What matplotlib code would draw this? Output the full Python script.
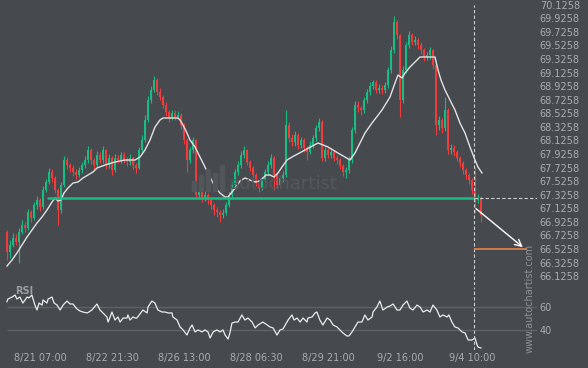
import matplotlib.pyplot as plt
import numpy as np

# colours
BG = "#46494e"
TXT = "#a9acb0"
GREEN = "#17bd83"
RED = "#f23c3c"

# candle closes / highs / lows (30 min bars, one entry per ~3 source bars)
first_open = 66.78
close = [66.48, 66.59, 66.69, 66.63, 66.78, 66.88, 66.84, 67.07, 66.98, 67.17,
         67.25, 67.14, 67.40, 67.51, 67.66, 67.57, 67.40, 67.10, 67.47, 67.84,
         67.76, 67.72, 67.66, 67.62, 67.69, 67.76, 67.84, 67.98, 67.84, 67.76,
         67.91, 67.84, 67.98, 67.76, 67.87, 67.69, 67.87, 67.84, 67.91, 67.84,
         67.81, 67.87, 67.76, 67.72, 67.98, 68.13, 68.43, 68.72, 68.87, 69.02,
         68.84, 68.77, 68.65, 68.54, 68.46, 68.53, 68.47, 68.50, 68.35, 68.13,
         67.84, 67.98, 68.13, 67.32, 67.37, 67.28, 67.32, 67.25, 67.17, 67.10,
         67.07, 67.03, 67.06, 67.17, 67.32, 67.47, 67.66, 67.76, 67.91, 67.98,
         67.81, 67.72, 67.62, 67.50, 67.42, 67.54, 67.66, 67.76, 67.87, 67.62,
         67.47, 67.57, 67.62, 68.35, 68.16, 68.10, 68.21, 68.06, 68.13, 68.01,
         67.96, 68.06, 68.16, 68.31, 68.40, 67.87, 67.98, 67.91, 67.96, 67.87,
         67.84, 67.75, 67.66, 67.69, 67.84, 68.28, 68.65, 68.60, 68.57, 68.72,
         68.84, 68.93, 68.99, 68.87, 68.90, 68.87, 68.94, 69.16, 69.46, 69.87,
         69.68, 68.72, 69.16, 69.53, 69.68, 69.58, 69.61, 69.53, 69.46, 69.36,
         69.38, 69.46, 69.24, 68.35, 68.43, 68.31, 68.57, 67.98, 68.01, 67.96,
         67.87, 67.79, 67.69, 67.62, 67.54, 67.40, 67.25, 67.28, 67.03]
high = [66.80, 66.66, 66.76, 66.74, 66.84, 66.95, 66.93, 67.12, 67.10, 67.22,
        67.31, 67.28, 67.45, 67.56, 67.72, 67.70, 67.60, 67.43, 67.52, 67.90,
        67.88, 67.80, 67.76, 67.70, 67.74, 67.81, 67.89, 68.05, 68.01, 67.87,
        67.97, 67.95, 68.04, 68.00, 67.92, 67.90, 67.92, 67.91, 67.96, 67.95,
        67.88, 67.92, 67.90, 67.80, 68.03, 68.20, 68.50, 68.78, 68.93, 69.08,
        69.05, 68.90, 68.80, 68.69, 68.58, 68.58, 68.57, 68.56, 68.53, 68.38,
        68.16, 68.03, 68.17, 68.15, 67.43, 67.41, 67.38, 67.35, 67.28, 67.20,
        67.14, 67.10, 67.12, 67.22, 67.37, 67.52, 67.71, 67.82, 67.97, 68.04,
        68.00, 67.84, 67.75, 67.65, 67.53, 67.59, 67.71, 67.82, 67.93, 67.90,
        67.66, 67.62, 67.67, 68.57, 68.40, 68.22, 68.26, 68.24, 68.18, 68.16,
        68.05, 68.11, 68.21, 68.36, 68.46, 68.42, 68.03, 68.01, 68.01, 67.99,
        67.91, 67.87, 67.78, 67.74, 67.89, 68.33, 68.71, 68.70, 68.64, 68.77,
        68.89, 68.98, 69.02, 69.01, 68.95, 68.94, 68.99, 69.21, 69.52, 69.96,
        69.90, 69.70, 69.22, 69.58, 69.74, 69.71, 69.66, 69.64, 69.57, 69.49,
        69.43, 69.50, 69.48, 69.26, 68.49, 68.46, 68.77, 68.60, 68.07, 68.06,
        67.99, 67.90, 67.82, 67.72, 67.65, 67.57, 67.73, 67.34, 67.31]
low = [66.36, 66.40, 66.55, 66.58, 66.32, 66.74, 66.78, 66.80, 66.92, 66.95,
       67.12, 67.08, 67.11, 67.36, 67.48, 67.52, 67.35, 66.88, 67.05, 67.44,
       67.70, 67.66, 67.60, 67.55, 67.58, 67.65, 67.72, 67.80, 67.78, 67.70,
       67.73, 67.79, 67.80, 67.70, 67.72, 67.61, 67.66, 67.79, 67.80, 67.79,
       67.75, 67.77, 67.71, 67.64, 67.70, 67.95, 68.10, 68.40, 68.68, 68.84,
       68.80, 68.72, 68.60, 68.49, 68.40, 68.42, 68.42, 68.44, 68.30, 68.07,
       67.66, 67.80, 67.94, 67.28, 67.27, 67.22, 67.24, 67.19, 67.11, 67.03,
       66.99, 66.92, 66.98, 67.02, 67.14, 67.29, 67.44, 67.62, 67.72, 67.86,
       67.76, 67.67, 67.57, 67.45, 67.36, 67.39, 67.51, 67.62, 67.72, 67.40,
       67.42, 67.43, 67.52, 67.58, 68.10, 68.04, 68.05, 68.00, 68.02, 67.96,
       67.84, 67.92, 68.02, 68.12, 68.27, 67.82, 67.82, 67.86, 67.87, 67.82,
       67.78, 67.70, 67.60, 67.57, 67.65, 67.80, 68.24, 68.54, 68.50, 68.53,
       68.68, 68.80, 68.88, 68.82, 68.83, 68.81, 68.83, 68.90, 69.12, 69.42,
       69.62, 68.47, 68.68, 69.12, 69.49, 69.53, 69.53, 69.47, 69.40, 69.30,
       69.31, 69.33, 69.18, 68.21, 68.28, 68.24, 68.27, 67.93, 67.93, 67.90,
       67.82, 67.74, 67.63, 67.56, 67.48, 67.33, 67.06, 67.20, 66.92]

# white base line (read at points)
base_x = [0, 1.67, 3.33, 5, 6.67, 8.33, 10, 11.67, 13.33, 15, 16, 17, 18, 19,
          20.33, 22, 23.67, 25.33, 27, 28.67, 30, 32.67, 36, 39.33, 42.67,
          44.33, 46, 47.67, 49.33, 51, 52, 57, 57.67, 58.67, 60, 61, 62.67,
          64.33, 66, 67.67, 69.33, 71, 72.67, 73.67, 75, 76.33, 77.67, 79.33,
          81, 82.67, 84.33, 85.33, 86.33, 87.67, 89, 90.33, 91.67, 93.33, 95,
          99.33, 103.67, 107, 110.33, 112.67, 114.33, 116, 119.33, 121.67, 125,
          127.67, 129.33, 130.33, 131.67, 132.67, 134.33, 136, 137.67, 142.67,
          143.67, 144.67, 146, 147.67, 149.33, 151, 152.67, 154.33, 156, 157,
          158.33]
base_y = [66.275, 66.363, 66.467, 66.585, 66.702, 66.805, 66.909, 66.997,
          67.100, 67.218, 67.277, 67.233, 67.248, 67.351, 67.424, 67.498,
          67.513, 67.572, 67.616, 67.660, 67.719, 67.763, 67.808, 67.837,
          67.837, 67.881, 67.984, 68.132, 68.323, 68.427, 68.456, 68.456,
          68.427, 68.353, 68.235, 68.132, 68.029, 67.881, 67.734, 67.587,
          67.439, 67.351, 67.292, 67.292, 67.366, 67.439, 67.528, 67.572,
          67.542, 67.513, 67.528, 67.572, 67.616, 67.616, 67.587, 67.646,
          67.734, 67.837, 67.881, 67.984, 68.088, 68.029, 67.940, 67.881,
          67.837, 67.940, 68.235, 68.382, 68.574, 68.766, 68.972, 69.090,
          69.046, 69.119, 69.208, 69.281, 69.355, 69.355, 69.164, 69.016,
          68.869, 68.721, 68.574, 68.382, 68.235, 68.029, 67.837, 67.734,
          67.646]

# RSI
rsi_x = [0, 0.3, 1.7, 2.7, 3.3, 4.3, 5.3, 6.7, 7.3, 8.3, 9.3, 10, 10.7, 11.7,
         12, 13.3, 13.7, 15, 15.7, 16.7, 17.7, 18.7, 20, 21, 22, 23.3, 24.3,
         25.3, 26.7, 27.3, 28.3, 30, 31, 32, 33.3, 33.7, 35, 36, 37, 37.7,
         38.7, 40, 40.3, 41, 42, 42.7, 43.3, 44.3, 45.3, 46.7, 47, 48.3, 49.3,
         50.3, 51.7, 52.7, 53.7, 55, 55.3, 56.7, 57.7, 58.7, 60, 61, 61.7,
         62.7, 63.7, 65, 66, 67, 67.7, 68.7, 70, 71, 72, 72.7, 73.7, 74.3, 75,
         76, 77, 78.3, 79.3, 80.3, 81.7, 82.7, 83.7, 85.3, 86.7, 87.7, 88.7,
         90, 91, 92, 93.7, 95, 95.7, 96.7, 97.7, 98.7, 100, 100.3, 101.7,
         102.7, 103.3, 104.3, 105.3, 106.7, 107.7, 108.7, 110, 111, 112,
         113.3, 114, 115, 116, 117, 118.3, 119.3, 120.3, 121.7, 122, 123.3,
         124.3, 125.3, 126.7, 127.7, 128.7, 130, 131, 132, 133.3, 134.3,
         135.3, 136.7, 137.7, 138.7, 140, 141, 142, 143.3, 144.3, 145.3,
         146.7, 147.3, 148.3, 149.3, 150.3, 151.7, 152.7, 153.7, 155, 156,
         156.7, 157, 158]
rsi = [64.2, 66.5, 68.2, 69.9, 66.5, 68.2, 63.1, 68.2, 67.4, 69.9, 61.4, 57.2,
       63.1, 61.4, 65.7, 63.1, 66.5, 68.2, 63.1, 61.4, 57.2, 61.4, 64.8, 62.3,
       62.3, 58.1, 56.4, 55.5, 54.7, 55.5, 57.2, 62.3, 57.2, 54.7, 51.3, 47.0,
       55.5, 48.7, 51.3, 47.0, 50.4, 50.4, 53.0, 48.7, 51.3, 50.4, 50.4, 53.8,
       57.2, 54.7, 59.7, 64.8, 63.1, 57.2, 55.5, 55.5, 54.7, 54.7, 51.3, 48.7,
       42.8, 40.3, 36.0, 41.9, 44.5, 38.6, 40.3, 38.6, 40.3, 38.6, 33.5, 38.6,
       40.3, 38.6, 40.3, 36.0, 32.6, 37.7, 46.2, 47.0, 47.0, 53.0, 48.7, 50.4,
       47.0, 42.0, 44.5, 47.0, 44.5, 42.8, 42.0, 36.0, 40.3, 41.1, 48.7, 53.0,
       48.7, 50.4, 47.0, 50.4, 47.0, 50.4, 51.3, 54.7, 55.5, 48.7, 44.5, 50.4,
       48.7, 44.5, 42.8, 40.3, 37.7, 35.2, 35.2, 38.6, 42.8, 47.0, 47.0, 53.0,
       48.7, 51.3, 55.5, 59.7, 64.8, 57.2, 59.7, 60.6, 62.3, 57.2, 57.2, 61.4,
       64.8, 58.9, 57.2, 61.4, 59.7, 55.5, 57.2, 55.5, 61.4, 57.2, 51.3, 53.0,
       51.3, 53.0, 47.0, 42.8, 42.0, 38.6, 37.7, 31.8, 31.8, 33.5, 27.5, 25.8,
       25.0]

tick_pos = [11, 35, 59, 83, 107, 131, 155]
tick_labels = ["8/21 07:00", "8/22 21:30", "8/26 13:00", "8/28 06:30",
               "8/29 21:00", "9/2 16:00", "9/4 10:00"]
price_ticks = [66.1258 + 0.2 * i for i in range(21)]

support = 67.275
now_x = 155.8
arrow_start = (155.67, 67.145)
arrow_end = (172.67, 66.526)
target = 66.5258
target_end = 173.3

XLIM = (-2.33, 176.67)

fig = plt.figure(figsize=(5.88, 3.68), dpi=100)
fig.patch.set_facecolor(BG)
plt.rcParams["font.family"] = "DejaVu Sans"

ax = fig.add_axes([0, 1 - 285 / 368, 537 / 588, 285 / 368])
ax_rsi = fig.add_axes([0, 1 - 350 / 368, 537 / 588, 63 / 368])

for a in (ax, ax_rsi):
    a.set_facecolor(BG)
    for s in a.spines.values():
        s.set_visible(False)
    a.set_xlim(*XLIM)
    a.yaxis.tick_right()
    a.tick_params(axis="both", length=0, colors=TXT, labelsize=7, pad=2)

# candles
opens = [first_open] + close[:-1]
xs = np.arange(len(close))
cols = [GREEN if c >= o else RED for o, c in zip(opens, close)]
ax.vlines(xs, low, high, colors=cols, lw=0.8, zorder=2)
bottoms = np.minimum(opens, close)
heights = np.maximum(np.abs(np.array(close) - np.array(opens)), 0.012)
ax.bar(xs, heights, bottom=bottoms, width=0.7, color=cols, linewidth=0, zorder=2)

ax.plot(base_x, base_y, color="#e2e2e2", lw=1.0, zorder=3)

# support line + projection
ax.hlines(support, 13.33, now_x, color=GREEN, lw=1.8, zorder=4)
ax.hlines(support, now_x, XLIM[1], color="#d0d0d0", lw=0.8, linestyles=(0, (3, 2)), zorder=4)
ax.vlines(now_x, 66.0, 70.126, color="#d0d0d0", lw=0.8, linestyles=(0, (3, 2)), zorder=4)
ax.hlines(target, now_x, target_end, color="#e8834a", lw=1.2, zorder=4)
ax.annotate("", xy=arrow_end, xytext=arrow_start,
            arrowprops=dict(arrowstyle="->", color="white", lw=1, mutation_scale=12),
            zorder=5)

ax.set_ylim(65.995, 70.195)
ax.set_yticks(price_ticks)
ax.set_yticklabels([f"{t:.4f}" for t in price_ticks])
ax.set_xticks([])

# RSI panel
ax_rsi.hlines([40, 60], 0, XLIM[1], color="#5e6166", lw=1, zorder=1)
ax_rsi.plot(rsi_x, rsi, color="#ececec", lw=0.9, zorder=3)
ax_rsi.vlines(now_x, 23.3, 76.7, color="#d0d0d0", lw=0.8, linestyles=(0, (3, 2)), zorder=4)
ax_rsi.set_ylim(23.3, 76.7)
ax_rsi.set_yticks([40, 60])
ax_rsi.set_xticks(tick_pos)
ax_rsi.set_xticklabels(tick_labels)
ax_rsi.text(0.028, 0.93, "RSI", transform=ax_rsi.transAxes, color="#9a9da2",
            fontsize=7, fontweight="bold", va="center")

# watermarks
fig.text(283 / 588, 1 - 184 / 368, "autochartist", color="#54575c", fontsize=13,
         ha="center", va="center", zorder=1)
for bx, bh in [(192, 10), (199, 16), (206, 22), (213, 18), (220, 26)]:
    fig.patches.append(plt.Rectangle((bx / 588, 1 - 191 / 368), 4 / 588, bh / 368,
                                     transform=fig.transFigure, color="#52555a",
                                     zorder=1))
fig.text(530 / 588, 1 - 298 / 368, "www.autochartist.com", color="#8e9196",
         fontsize=7, rotation=90, ha="center", va="center")

fig.savefig("out.png", dpi=100, facecolor=BG)
